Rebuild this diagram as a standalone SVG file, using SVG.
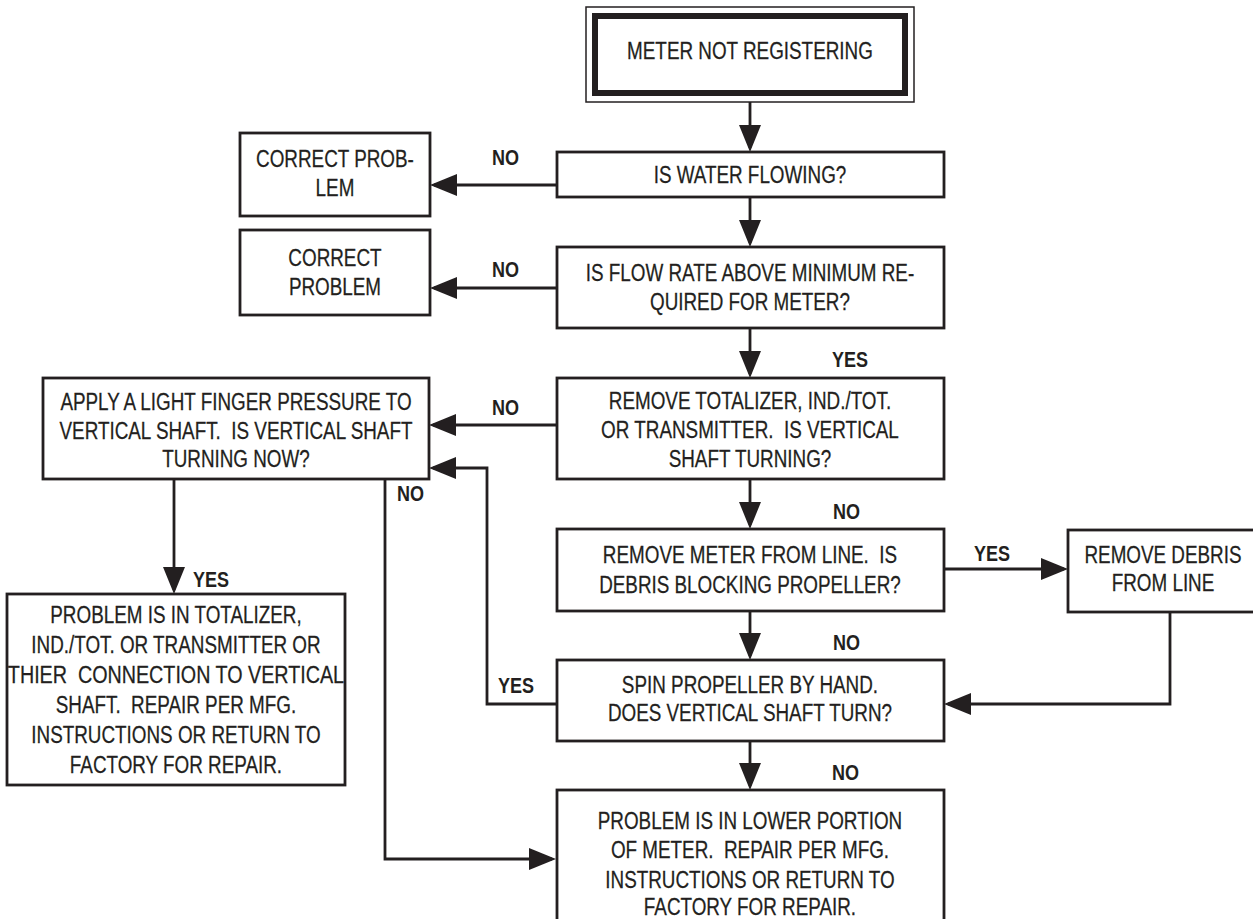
<svg xmlns="http://www.w3.org/2000/svg" width="1253" height="919" viewBox="0 0 1253 919">
<style>
.box{fill:#fff;stroke:#231f20;stroke-width:2.8}
.t{font-family:"Liberation Sans",Arial,sans-serif;font-size:23px;fill:#231f20;stroke:#231f20;stroke-width:0.25;text-anchor:middle;white-space:pre}
.lbl{font-family:"Liberation Sans",Arial,sans-serif;font-size:22px;font-weight:bold;fill:#231f20}
.c{fill:none;stroke:#231f20;stroke-width:2.8;marker-end:url(#ah)}
</style>
<defs>
<marker id="ah" markerUnits="userSpaceOnUse" markerWidth="27" markerHeight="22" refX="23" refY="11" orient="auto" viewBox="0 0 27 22">
<path d="M0,0 L27,11 L0,22 z" fill="#231f20"/>
</marker>
</defs>
<rect width="1253" height="919" fill="#fff"/>
<g id="connectors">
<path class="c" d="M750,102 V148"/>
<path class="c" d="M750,197 V243"/>
<path class="c" d="M750,328 V374"/>
<path class="c" d="M750,479 V525"/>
<path class="c" d="M750,611 V656"/>
<path class="c" d="M750,741 V786"/>
<path class="c" d="M557,185 H434"/>
<path class="c" d="M557,288 H434"/>
<path class="c" d="M557,425 H433"/>
<path class="c" d="M174,479 V590"/>
<path class="c" d="M385,479 V859 H552"/>
<path class="c" d="M557,704 H487 V468 H433"/>
<path class="c" d="M944,569 H1064"/>
<path class="c" d="M1170,612 V704 H948"/>
<g transform="scale(0.82,1)">
<text class="lbl" x="600" y="165">NO</text>
<text class="lbl" x="600" y="277">NO</text>
<text class="lbl" x="600" y="415">NO</text>
<text class="lbl" x="1014.6" y="367">YES</text>
<text class="lbl" x="1015.9" y="519">NO</text>
<text class="lbl" x="1187.8" y="561">YES</text>
<text class="lbl" x="1015.9" y="650">NO</text>
<text class="lbl" x="1014.6" y="780">NO</text>
<text class="lbl" x="235.4" y="587">YES</text>
<text class="lbl" x="484.1" y="501">NO</text>
<text class="lbl" x="607.3" y="693">YES</text>
</g>
</g>
<g id="start">
<rect x="586" y="7" width="328" height="95" fill="#fff" stroke="#231f20" stroke-width="1.5"/>
<rect x="595" y="16" width="310" height="77" fill="none" stroke="#231f20" stroke-width="6"/>
<text class="t" transform="scale(0.82,1)" x="914.6" y="59">METER NOT REGISTERING</text>
</g>
<g id="water">
<rect class="box" x="557" y="152" width="387" height="45"/>
<text class="t" transform="scale(0.82,1)" x="914.6" y="183">IS WATER FLOWING?</text>
</g>
<g id="correct1">
<rect class="box" x="240" y="133" width="190" height="83"/>
<g transform="scale(0.82,1)">
<text class="t" x="408.5" y="167">CORRECT PROB-</text>
<text class="t" x="408.5" y="196">LEM</text>
</g>
</g>
<g id="flow">
<rect class="box" x="557" y="247" width="387" height="81"/>
<g transform="scale(0.82,1)">
<text class="t" x="914.6" y="281">IS FLOW RATE ABOVE MINIMUM RE-</text>
<text class="t" x="914.6" y="310">QUIRED FOR METER?</text>
</g>
</g>
<g id="correct2">
<rect class="box" x="240" y="230" width="190" height="85"/>
<g transform="scale(0.82,1)">
<text class="t" x="408.5" y="266">CORRECT</text>
<text class="t" x="408.5" y="295">PROBLEM</text>
</g>
</g>
<g id="removeTot">
<rect class="box" x="557" y="378" width="387" height="101"/>
<g transform="scale(0.82,1)">
<text class="t" x="914.6" y="409">REMOVE TOTALIZER, IND./TOT.</text>
<text class="t" x="914.6" y="438">OR TRANSMITTER.  IS VERTICAL</text>
<text class="t" x="914.6" y="467">SHAFT TURNING?</text>
</g>
</g>
<g id="apply">
<rect class="box" x="43" y="378" width="386" height="101"/>
<g transform="scale(0.82,1)">
<text class="t" x="287.8" y="410">APPLY A LIGHT FINGER PRESSURE TO</text>
<text class="t" x="287.8" y="439">VERTICAL SHAFT.  IS VERTICAL SHAFT</text>
<text class="t" x="287.8" y="467">TURNING NOW?</text>
</g>
</g>
<g id="totalizer">
<rect class="box" x="7" y="594" width="338" height="191"/>
<g transform="scale(0.82,1)">
<text class="t" x="214.6" y="623">PROBLEM IS IN TOTALIZER,</text>
<text class="t" x="214.6" y="653">IND./TOT. OR TRANSMITTER OR</text>
<text class="t" x="214.6" y="683" textLength="410" lengthAdjust="spacingAndGlyphs">THIER  CONNECTION TO VERTICAL</text>
<text class="t" x="214.6" y="713">SHAFT.  REPAIR PER MFG.</text>
<text class="t" x="214.6" y="743">INSTRUCTIONS OR RETURN TO</text>
<text class="t" x="214.6" y="773">FACTORY FOR REPAIR.</text>
</g>
</g>
<g id="removeMeter">
<rect class="box" x="557" y="529" width="387" height="82"/>
<g transform="scale(0.82,1)">
<text class="t" x="914.6" y="563">REMOVE METER FROM LINE.  IS</text>
<text class="t" x="914.6" y="593">DEBRIS BLOCKING PROPELLER?</text>
</g>
</g>
<g id="debris">
<rect class="box" x="1068" y="530" width="190" height="82"/>
<g transform="scale(0.82,1)">
<text class="t" x="1418.3" y="563">REMOVE DEBRIS</text>
<text class="t" x="1418.3" y="591">FROM LINE</text>
</g>
</g>
<g id="spin">
<rect class="box" x="557" y="660" width="387" height="81"/>
<g transform="scale(0.82,1)">
<text class="t" x="914.6" y="693">SPIN PROPELLER BY HAND.</text>
<text class="t" x="914.6" y="721">DOES VERTICAL SHAFT TURN?</text>
</g>
</g>
<g id="lower">
<rect class="box" x="557" y="790" width="387" height="140"/>
<g transform="scale(0.82,1)">
<text class="t" x="914.6" y="829">PROBLEM IS IN LOWER PORTION</text>
<text class="t" x="914.6" y="858">OF METER.  REPAIR PER MFG.</text>
<text class="t" x="914.6" y="888">INSTRUCTIONS OR RETURN TO</text>
<text class="t" x="914.6" y="915">FACTORY FOR REPAIR.</text>
</g>
</g>
</svg>
